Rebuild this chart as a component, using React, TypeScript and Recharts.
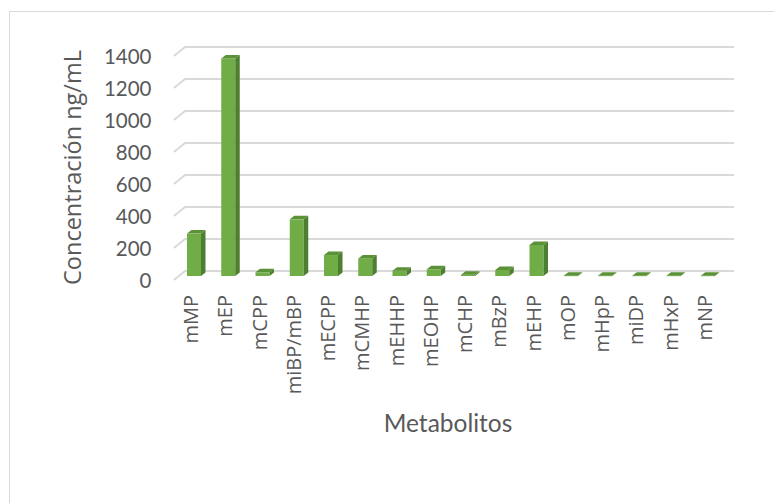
import { BarChart, Bar, XAxis, YAxis, CartesianGrid } from "recharts";

// metabolitos y concentraciones (ng/mL)
const categories = [
  "mMP", "mEP", "mCPP", "miBP/mBP", "mECPP", "mCMHP", "mEHHP", "mEOHP",
  "mCHP", "mBzP", "mEHP", "mOP", "mHpP", "miDP", "mHxP", "mNP",
];
const values = [265, 1360, 23, 354, 131, 110, 33, 42, 8, 38, 194, 2, 2, 2, 2, 2];
const yTicks = [0, 200, 400, 600, 800, 1000, 1200, 1400];

const data = categories.map((name, i) => ({ name, value: values[i] }));

const textColor = "#595959";
const gridColor = "#d9d9d9";

// profundidad del "3D" del fondo y de las barras
const wallDx = 11;
const wallDy = -9;
const barDx = 4.5;
const barDy = -3.5;

const Bar3D = (props: any) => {
  const { x, y, width, height } = props;
  const fx = x + 3;
  const fy = y - 4;
  const h = Math.max(height, 0.5);
  const front = `M${fx},${fy} h${width} v${h} h${-width} Z`;
  const side = `M${fx + width},${fy} l${barDx},${barDy} v${h} l${-barDx},${-barDy} Z`;
  const top = `M${fx},${fy} l${barDx},${barDy} h${width} l${-barDx},${-barDy} Z`;
  return (
    <g>
      <path d={front} fill="#70ad47" />
      <path d={side} fill="#4e7f30" />
      <path d={top} fill="#5b9238" />
    </g>
  );
};

const gridLine = (p: any) => {
  const { x1, y1, x2 } = p;
  return (
    <path
      key={p.key}
      d={`M${x1},${y1} L${x1 + wallDx},${y1 + wallDy} L${x2 + wallDx + 1},${y1 + wallDy}`}
      stroke={gridColor}
      strokeWidth={2}
      fill="none"
    />
  );
};

const YTick = (props: any) => {
  const { y, payload } = props;
  return (
    <text
      x={151.5}
      y={y + 7.5}
      textAnchor="end"
      fill={textColor}
      fontFamily="Lato, sans-serif"
      fontSize={20.5}
    >
      {payload.value}
    </text>
  );
};

const XTick = (props: any) => {
  const { x, payload } = props;
  const bx = x + 7;
  const by = 295;
  return (
    <text
      x={bx}
      y={by}
      transform={`rotate(-90 ${bx} ${by})`}
      textAnchor="end"
      fill={textColor}
      fontFamily="'Open Sans', sans-serif"
      fontSize={20}
    >
      {payload.value}
    </text>
  );
};

export default function App() {
  return (
    <div style={{ position: "fixed", left: 0, top: 0, width: 774, height: 503, background: "#fff" }}>
      <div
        style={{
          position: "fixed",
          left: 9,
          top: 11,
          width: 900,
          height: 700,
          border: `1px solid ${gridColor}`,
          boxSizing: "border-box",
        }}
      />
      <div style={{ position: "fixed", left: 0, top: 0 }}>
        <BarChart
          width={774}
          height={503}
          data={data}
          margin={{ top: 56, right: 52, left: 94, bottom: 103 }}
          barSize={14}
        >
          <CartesianGrid vertical={false} horizontal={gridLine} />
          <XAxis
            dataKey="name"
            height={120}
            axisLine={false}
            tickLine={false}
            interval={0}
            tick={<XTick />}
          />
          <YAxis
            width={80}
            domain={[0, 1400]}
            ticks={yTicks}
            axisLine={false}
            tickLine={false}
            tick={<YTick />}
          />
          <Bar dataKey="value" shape={<Bar3D />} isAnimationActive={false} />
          <text
            x={81}
            y={167.5}
            transform="rotate(-90 81 167.5)"
            textAnchor="middle"
            fill={textColor}
            fontFamily="'Open Sans', sans-serif"
            fontSize={23.5}
          >
            Concentración ng/mL
          </text>
          <text
            x={448}
            y={432}
            textAnchor="middle"
            fill={textColor}
            fontFamily="Lato, sans-serif"
            fontSize={24.5}
          >
            Metabolitos
          </text>
        </BarChart>
      </div>
    </div>
  );
}
